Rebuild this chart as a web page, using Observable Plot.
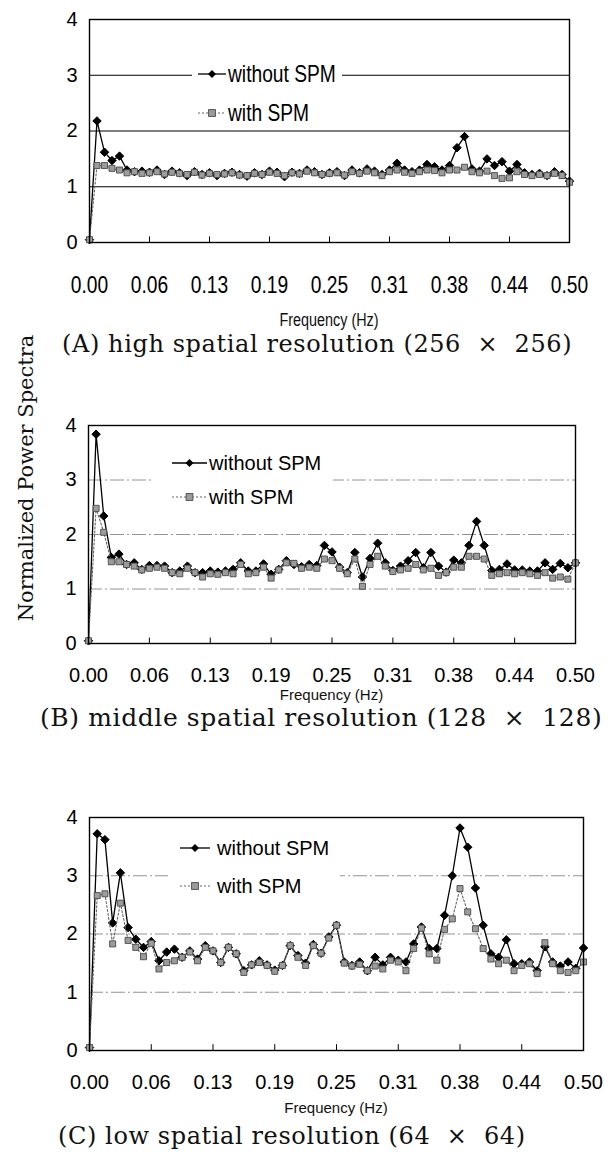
<!DOCTYPE html>
<html><head><meta charset="utf-8">
<script src="https://cdn.jsdelivr.net/npm/d3@7"></script>
<script src="https://cdn.jsdelivr.net/npm/@observablehq/plot@0.6"></script>
<style>
body{margin:0;background:#fff;}
#page{position:relative;width:613px;height:1157px;overflow:hidden;background:#fff;}
#page > *{position:absolute;}
.cap{font-family:"DejaVu Serif",serif;font-size:24px;letter-spacing:0.6px;white-space:pre;color:#111;line-height:1;}
.freq{font-family:"Liberation Sans",Arial,sans-serif;font-size:15px;color:#111;transform:translate(-50%,-50%);white-space:nowrap;line-height:1;}
.freq.narrow{font-size:18px;transform:translate(-50%,-50%) scaleX(0.8);}
.ylab{font-family:"DejaVu Serif",serif;font-size:21px;color:#111;white-space:nowrap;transform:translate(-50%,-50%) rotate(-90deg);line-height:1;}
.legend{background:#fff;font-family:"Liberation Sans",Arial,sans-serif;font-size:20px;color:#000;}
.legend .row{position:absolute;left:0;display:flex;align-items:center;white-space:nowrap;}
.legend svg{flex:none;}
.legend.narrow span{font-size:24px;display:inline-block;transform:scaleX(0.8);transform-origin:left center;}
</style></head>
<body><div id="page"></div>
<script>
// ---- data ----
const freq = d3.range(65).map(i => i / 128);            // frequency categories (Hz)
const xTicks = [0, 0.0625, 0.125, 0.1875, 0.25, 0.3125, 0.375, 0.4375, 0.5];
const xTickLabels = ["0.00","0.06","0.13","0.19","0.25","0.31","0.38","0.44","0.50"];
const yTicks = [0, 1, 2, 3, 4];
const yTickLabels = ["0","1","2","3","4"];
const seriesNames = ["without SPM", "with SPM"];

const highWithout = [0.05,2.18,1.62,1.47,1.55,1.3,1.27,1.28,1.26,1.3,1.22,1.28,1.25,1.2,1.27,1.22,1.25,1.2,1.24,1.26,1.22,1.19,1.25,1.22,1.28,1.26,1.18,1.26,1.24,1.3,1.27,1.22,1.25,1.27,1.2,1.3,1.25,1.32,1.28,1.22,1.3,1.42,1.3,1.27,1.3,1.4,1.36,1.3,1.38,1.7,1.9,1.32,1.28,1.5,1.38,1.45,1.28,1.4,1.25,1.22,1.24,1.2,1.27,1.22,1.1];
const highWith = [0.05,1.38,1.38,1.33,1.3,1.25,1.27,1.24,1.25,1.27,1.23,1.26,1.24,1.22,1.26,1.21,1.24,1.22,1.23,1.25,1.21,1.2,1.24,1.22,1.26,1.24,1.2,1.25,1.23,1.28,1.25,1.22,1.24,1.25,1.21,1.27,1.24,1.28,1.25,1.2,1.27,1.3,1.26,1.24,1.27,1.3,1.29,1.25,1.3,1.3,1.35,1.27,1.25,1.28,1.2,1.15,1.16,1.27,1.22,1.2,1.22,1.2,1.24,1.2,1.08];

const midWithout = [0.05,3.84,2.34,1.58,1.64,1.45,1.48,1.36,1.43,1.43,1.42,1.3,1.33,1.42,1.3,1.3,1.33,1.31,1.33,1.36,1.48,1.33,1.33,1.46,1.27,1.36,1.52,1.45,1.41,1.45,1.43,1.8,1.68,1.4,1.3,1.67,1.22,1.56,1.84,1.48,1.34,1.42,1.52,1.67,1.39,1.67,1.42,1.31,1.53,1.48,1.8,2.24,1.8,1.34,1.36,1.46,1.35,1.35,1.33,1.33,1.48,1.36,1.47,1.39,1.48];
const midWith = [0.05,2.48,2.04,1.5,1.5,1.45,1.42,1.35,1.38,1.4,1.38,1.3,1.28,1.38,1.3,1.22,1.28,1.27,1.3,1.28,1.45,1.28,1.3,1.4,1.2,1.35,1.48,1.47,1.38,1.4,1.38,1.55,1.52,1.38,1.28,1.55,1.05,1.45,1.6,1.42,1.32,1.35,1.38,1.45,1.35,1.38,1.25,1.3,1.4,1.4,1.6,1.6,1.55,1.25,1.28,1.3,1.28,1.3,1.28,1.25,1.3,1.2,1.22,1.18,1.48];

const lowWithout = [0.05,3.72,3.62,2.19,3.05,2.11,1.91,1.77,1.87,1.54,1.69,1.74,1.6,1.71,1.57,1.8,1.71,1.51,1.77,1.66,1.37,1.47,1.54,1.47,1.38,1.46,1.8,1.63,1.5,1.82,1.67,1.95,2.15,1.52,1.46,1.52,1.37,1.6,1.47,1.6,1.55,1.52,1.83,2.12,1.75,1.75,2.32,3.0,3.82,3.49,2.79,2.15,1.66,1.6,1.9,1.49,1.49,1.52,1.37,1.78,1.52,1.45,1.52,1.41,1.76];
const lowWith = [0.05,2.66,2.69,1.83,2.53,1.89,1.77,1.61,1.84,1.4,1.51,1.54,1.6,1.69,1.54,1.77,1.71,1.51,1.77,1.66,1.34,1.47,1.51,1.46,1.36,1.46,1.8,1.6,1.46,1.8,1.67,1.93,2.15,1.5,1.45,1.48,1.37,1.45,1.4,1.55,1.52,1.37,1.75,2.1,1.66,1.55,2.08,2.26,2.78,2.38,2.09,1.75,1.57,1.49,1.55,1.37,1.46,1.49,1.32,1.85,1.49,1.37,1.34,1.37,1.52];

const panelSeries = [[highWithout, highWith],[midWithout, midWith],[lowWithout, lowWith]];
const captions = ["(A) high spatial resolution (256  \u00d7  256)",
                  "(B) middle spatial resolution (128  \u00d7  128)",
                  "(C) low spatial resolution (64  \u00d7  64)"];
const xAxisTitle = "Frequency (Hz)";
const yAxisTitle = "Normalized Power Spectra";

// ---- layout (positions / styles only) ----
const layout = [
  {svgTop:0,   h:300, left:89, right:569, top:19,  bottom:242, xpad:33, grid:"solid", narrow:true, lab:24,
   freqY:320, capY:332, capX:62, capSize:24,
   leg:{x:192, y:60, w:150, h:68, rows:[14, 53], sw:[6,34], textX:36}},
  {svgTop:400, h:300, left:88, right:575, top:425, bottom:643, xpad:24, grid:"dash", narrow:false, lab:20,
   freqY:694, capY:705, capX:40, capSize:25,
   leg:{x:153, y:447, w:180, h:66, rows:[16, 50], sw:[19,54], textX:56}},
  {svgTop:790, h:300, left:89, right:583, top:817, bottom:1050, xpad:24, grid:"dash", narrow:false, lab:20,
   freqY:1107, capY:1124, capX:58, capSize:24,
   leg:{x:168, y:830, w:172, h:72, rows:[18, 56], sw:[12,42], textX:49}}
];

const page = document.getElementById("page");
const sansFont = "'Liberation Sans',Arial,sans-serif";

layout.forEach((L, p) => {
  const [wo, wi] = panelSeries[p];
  const rowsWo = freq.map((f, i) => ({f, v: wo[i], s: seriesNames[0]}));
  const rowsWi = freq.map((f, i) => ({f, v: wi[i], s: seriesNames[1]}));
  const gridMarks = L.grid === "solid"
    ? Plot.ruleY(yTicks.slice(1, 4), {stroke: "#000", strokeWidth: 1.2})
    : Plot.ruleY(yTicks.slice(1, 4), {stroke: "#888", strokeWidth: 0.9, strokeDasharray: "14,3,2,3"});
  const chart = Plot.plot({
    width: 613, height: L.h,
    marginLeft: L.left, marginRight: 613 - L.right,
    marginTop: L.top - L.svgTop, marginBottom: L.svgTop + L.h - L.bottom,
    x: {domain: [0, 0.5]},
    y: {domain: [0, 4]},
    style: {fontFamily: sansFont, fontSize: "20px", color: "#000", background: "transparent", overflow: "visible"},
    marks: [
      gridMarks,
      Plot.ruleX(xTicks.slice(1, 8), {y1: 0, y2: 0.1, stroke: "#000", strokeWidth: 1}),
      Plot.axisX({ticks: xTicks, tickFormat: d => xTickLabels[xTicks.indexOf(d)], tickSize: 0,
                  tickPadding: L.xpad, fontSize: L.lab, label: null}),
      Plot.axisY({ticks: yTicks, tickFormat: d => yTickLabels[yTicks.indexOf(d)], tickSize: 0,
                  tickPadding: 12, fontSize: 20, label: null}),
      Plot.line(rowsWo, {x: "f", y: "v", stroke: "#000", strokeWidth: 1.3}),
      Plot.dot(rowsWo, {x: "f", y: "v", symbol: "diamond2", r: 3.8, fill: "#000", stroke: "#000", strokeWidth: 1}),
      Plot.line(rowsWi, {x: "f", y: "v", stroke: "#666", strokeWidth: 1.1, strokeDasharray: "2,2"}),
      Plot.dot(rowsWi, {x: "f", y: "v", symbol: "square", r: 3.4, fill: "#9c9c9c", stroke: "#4a4a4a", strokeWidth: 0.9}),
      Plot.frame({stroke: "#000", strokeWidth: 1.4})
    ]
  });
  if (L.narrow) {
    d3.select(chart).selectAll('g[aria-label="x-axis tick label"] text')
      .attr("transform", function() { return (this.getAttribute("transform") || "") + " scale(0.8,1)"; });
  }
  chart.style.left = "0px";
  chart.style.top = L.svgTop + "px";
  page.appendChild(chart);

  // legend
  const lg = document.createElement("div");
  lg.className = "legend" + (L.narrow ? " narrow" : "");
  lg.style.left = L.leg.x + "px";
  lg.style.top = L.leg.y + "px";
  lg.style.width = L.leg.w + "px";
  lg.style.height = L.leg.h + "px";
  seriesNames.forEach((name, k) => {
    const row = document.createElement("div");
    row.className = "row";
    row.style.top = (L.leg.rows[k] - 15) + "px";
    row.style.height = "30px";
    const w = L.leg.textX;
    const x1 = L.leg.sw[0], x2 = L.leg.sw[1], xm = (x1 + x2) / 2;
    const sym = k === 0
      ? `<line x1="${x1}" x2="${x2}" y1="7" y2="7" stroke="#000" stroke-width="1.3"/><path d="M${xm} 3L${xm+4} 7L${xm} 11L${xm-4} 7Z" fill="#000"/>`
      : `<line x1="${x1}" x2="${x2}" y1="7" y2="7" stroke="#666" stroke-width="1.1" stroke-dasharray="2,2"/><rect x="${xm-3.4}" y="3.6" width="6.8" height="6.8" fill="#9c9c9c" stroke="#4a4a4a" stroke-width="0.9"/>`;
    row.innerHTML = `<svg width="${w}" height="14">${sym}</svg><span>${name}</span>`;
    lg.appendChild(row);
  });
  page.appendChild(lg);

  const fq = document.createElement("div");
  fq.className = "freq" + (L.narrow ? " narrow" : "");
  fq.textContent = xAxisTitle;
  fq.style.left = ((L.left + L.right) / 2) + "px";
  fq.style.top = L.freqY + "px";
  page.appendChild(fq);

  const cp = document.createElement("div");
  cp.className = "cap";
  cp.textContent = captions[p];
  cp.style.fontSize = L.capSize + "px";
  cp.style.left = L.capX + "px";
  cp.style.top = L.capY + "px";
  page.appendChild(cp);
});

const yl = document.createElement("div");
yl.className = "ylab";
yl.textContent = yAxisTitle;
yl.style.left = "26px";
yl.style.top = "478px";
page.appendChild(yl);
</script>
</body></html>
